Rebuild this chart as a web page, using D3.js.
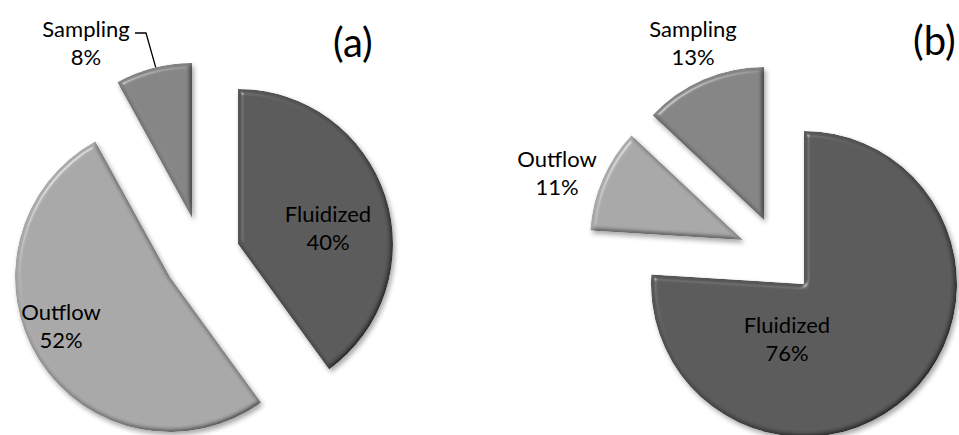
<!DOCTYPE html>
<html>
<head>
<meta charset="utf-8">
<script src="https://cdn.jsdelivr.net/npm/d3@7"></script>
<style>
  html, body { margin: 0; padding: 0; background: #fff; }
  svg { display: block; }
  text { font-family: Lato, "Open Sans", sans-serif; fill: #000; }
</style>
</head>
<body>
<svg id="chart" width="959" height="435"></svg>
<script>
// ---- data ----
const categories = ["Fluidized", "Outflow", "Sampling"];
const valuesA = [40, 52, 8];
const valuesB = [76, 11, 13];
const panelLabels = ["(a)", "(b)"];

// ---- styles / layout ----
const colors = d3.scaleOrdinal().domain(categories).range(["#595959", "#a8a8a8", "#848484"]);

const panels = [
  {
    values: valuesA, label: panelLabels[0], radius: 155,
    centers: [[238, 244], [170, 277], [192, 218]],
    labelPos: [[328, 222], [61, 320], [86, 37]],
    title: [333, 57],
    leader: { slice: 2, pts: [[135, 33], [146, 33]], r: 1.0, a: 0.53 }
  },
  {
    values: valuesB, label: panelLabels[1], radius: 153,
    centers: [[804, 284], [743, 240], [764, 220]],
    labelPos: [[787, 333], [557, 167], [693, 37]],
    title: [913, 55],
    leader: null
  }
];

const svg = d3.select("#chart");
svg.append("rect").attr("width", 959).attr("height", 435).attr("fill", "#fff");

// Bevel + shadow filter
const defs = svg.append("defs");
const f = defs.append("filter").attr("id", "bevel")
  .attr("x", "-10%").attr("y", "-10%").attr("width", "125%").attr("height", "125%");
f.append("feGaussianBlur").attr("in", "SourceAlpha").attr("stdDeviation", 2.6).attr("result", "blur");
const diff = f.append("feDiffuseLighting").attr("in", "blur").attr("surfaceScale", 4)
  .attr("diffuseConstant", 1.12).attr("lighting-color", "#fff").attr("result", "diff");
diff.append("feDistantLight").attr("azimuth", 225).attr("elevation", 63);
f.append("feComposite").attr("in", "SourceGraphic").attr("in2", "diff")
  .attr("operator", "arithmetic").attr("k1", 1).attr("k2", 0).attr("k3", 0).attr("k4", 0).attr("result", "shaded");
const spec = f.append("feSpecularLighting").attr("in", "blur").attr("surfaceScale", 4)
  .attr("specularConstant", 0.6).attr("specularExponent", 45).attr("lighting-color", "#fff").attr("result", "spec");
spec.append("feDistantLight").attr("azimuth", 225).attr("elevation", 45);
f.append("feComposite").attr("in", "spec").attr("in2", "SourceAlpha").attr("operator", "in").attr("result", "specIn");
f.append("feComposite").attr("in", "shaded").attr("in2", "specIn")
  .attr("operator", "arithmetic").attr("k1", 0).attr("k2", 1).attr("k3", 0.6).attr("k4", 0).attr("result", "lit");
f.append("feComposite").attr("in", "lit").attr("in2", "SourceAlpha").attr("operator", "in").attr("result", "litIn");
f.append("feGaussianBlur").attr("in", "SourceAlpha").attr("stdDeviation", 2.5).attr("result", "sblur");
f.append("feOffset").attr("in", "sblur").attr("dx", 2).attr("dy", 3).attr("result", "soff");
f.append("feComponentTransfer").attr("in", "soff").attr("result", "shadow")
  .append("feFuncA").attr("type", "linear").attr("slope", 0.35);
const merge = f.append("feMerge");
merge.append("feMergeNode").attr("in", "shadow");
merge.append("feMergeNode").attr("in", "litIn");

const pie = d3.pie().sort(null).value(d => d.value).startAngle(0).endAngle(2 * Math.PI);

panels.forEach(p => {
  const data = categories.map((c, i) => ({ name: c, value: p.values[i] }));
  const arcs = pie(data);
  const arc = d3.arc().innerRadius(0).outerRadius(p.radius);
  const g = svg.append("g");

  g.selectAll("path.slice").data(arcs).enter().append("path")
    .attr("class", "slice")
    .attr("transform", (d, i) => `translate(${p.centers[i][0]},${p.centers[i][1]})`)
    .attr("d", arc)
    .attr("fill", d => colors(d.data.name))
    .attr("filter", "url(#bevel)");

  // leader line
  if (p.leader) {
    const a = arcs[p.leader.slice];
    const c = p.centers[p.leader.slice];
    const ang = a.startAngle + (a.endAngle - a.startAngle) * p.leader.a;
    const end = [c[0] + Math.sin(ang) * p.radius * p.leader.r, c[1] - Math.cos(ang) * p.radius * p.leader.r];
    g.append("path")
      .attr("d", d3.line()(p.leader.pts.concat([end])))
      .attr("fill", "none").attr("stroke", "#000").attr("stroke-width", 1.3);
  }

  // data labels
  const lab = g.selectAll("text.lab").data(arcs).enter().append("text")
    .attr("class", "lab")
    .attr("text-anchor", "middle")
    .attr("font-size", 22);
  lab.append("tspan")
    .attr("x", (d, i) => p.labelPos[i][0]).attr("y", (d, i) => p.labelPos[i][1])
    .text(d => d.data.name);
  lab.append("tspan")
    .attr("x", (d, i) => p.labelPos[i][0]).attr("y", (d, i) => p.labelPos[i][1] + 28)
    .text(d => d.data.value + "%");

  // panel label
  g.append("text").attr("x", p.title[0]).attr("y", p.title[1])
    .attr("font-size", 40).text(p.label);
});
</script>
</body>
</html>
